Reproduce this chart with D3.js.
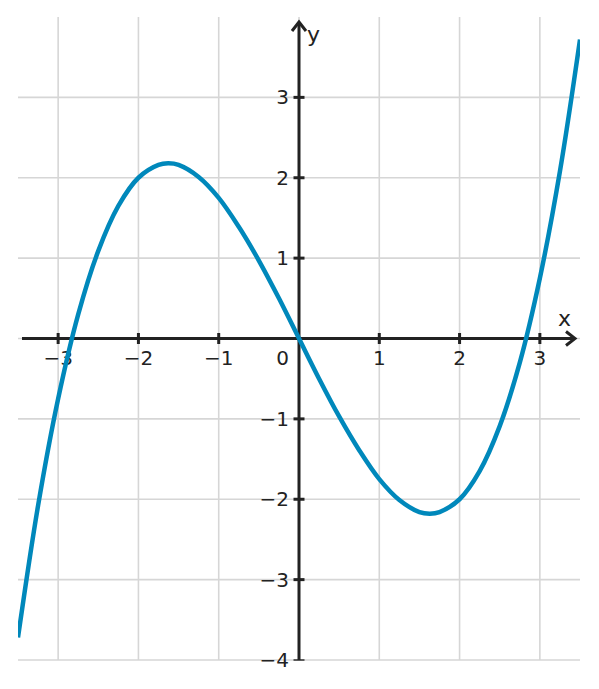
<!DOCTYPE html>
<html>
<head>
<meta charset="utf-8">
<script src="https://cdn.jsdelivr.net/npm/d3@7"></script>
<style>
  body { margin: 0; background: #fff; }
  text { font-family: "DejaVu Sans", sans-serif; fill: #222; }
</style>
</head>
<body>
<div id="chart"></div>
<script>
// curve points
var xs = [-3.5, -3.25, -3, -2.75, -2.5, -2.25, -2, -1.75, -1.63, -1.5, -1.25, -1, -0.75, -0.5, -0.25,
          0, 0.25, 0.5, 0.75, 1, 1.25, 1.5, 1.63, 1.75, 2, 2.25, 2.5, 2.75, 3, 3.25, 3.5];
var ys = [-3.72, -2.08, -0.75, 0.30, 1.09, 1.65, 2.00, 2.16, 2.18, 2.16, 2.01, 1.75, 1.39, 0.97, 0.50,
          0, -0.50, -0.97, -1.39, -1.75, -2.01, -2.16, -2.18, -2.16, -2.00, -1.65, -1.09, -0.30, 0.75, 2.08, 3.72];

var xTicks = [-3, -2, -1, 1, 2, 3];
var yTicks = [-4, -3, -2, -1, 1, 2, 3];
var xGrid = [-3, -2, -1, 0, 1, 2, 3];
var yGrid = [-4, -3, -2, -1, 0, 1, 2, 3];

var width = 599, height = 689;
var plot = { left: 18, right: 580, top: 17, bottom: 660 };

var x = d3.scaleLinear().domain([-3.5, 3.5]).range([plot.left, plot.right]);
var y = d3.scaleLinear().domain([-4, 4]).range([plot.bottom, plot.top]);

var svg = d3.select("#chart").append("svg")
    .attr("width", width)
    .attr("height", height);

svg.append("defs").append("clipPath").attr("id", "clip")
    .append("rect")
    .attr("x", plot.left).attr("y", plot.top)
    .attr("width", plot.right - plot.left).attr("height", plot.bottom - plot.top);

// grid
svg.append("g").selectAll("line").data(xGrid).join("line")
    .attr("x1", d => x(d)).attr("x2", d => x(d))
    .attr("y1", plot.top).attr("y2", plot.bottom)
    .attr("stroke", "#d6d6d6").attr("stroke-width", 1.6);
svg.append("g").selectAll("line").data(yGrid).join("line")
    .attr("x1", plot.left).attr("x2", plot.right)
    .attr("y1", d => y(d)).attr("y2", d => y(d))
    .attr("stroke", "#d6d6d6").attr("stroke-width", 1.6);

var ax = "#222";
// x axis
svg.append("line")
    .attr("x1", 22).attr("x2", 574)
    .attr("y1", y(0)).attr("y2", y(0))
    .attr("stroke", ax).attr("stroke-width", 3);
svg.append("path")
    .attr("d", `M${566},${y(0) - 7} L${575},${y(0)} L${566},${y(0) + 7}`)
    .attr("fill", "none").attr("stroke", ax).attr("stroke-width", 3);
// y axis
svg.append("line")
    .attr("x1", x(0)).attr("x2", x(0))
    .attr("y1", plot.bottom).attr("y2", 23)
    .attr("stroke", ax).attr("stroke-width", 3);
svg.append("path")
    .attr("d", `M${x(0) - 7},${31} L${x(0)},${22} L${x(0) + 7},${31}`)
    .attr("fill", "none").attr("stroke", ax).attr("stroke-width", 3);

// ticks
svg.append("g").selectAll("line").data(xTicks).join("line")
    .attr("x1", d => x(d)).attr("x2", d => x(d))
    .attr("y1", y(0) - 5.5).attr("y2", y(0) + 5.5)
    .attr("stroke", ax).attr("stroke-width", 3);
svg.append("g").selectAll("line").data(yTicks).join("line")
    .attr("x1", x(0) - 5.5).attr("x2", x(0) + 5.5)
    .attr("y1", d => y(d)).attr("y2", d => y(d))
    .attr("stroke", ax).attr("stroke-width", d => d == -4 ? 1.4 : 3);

function fmt(d) { return d < 0 ? "\u2212" + Math.abs(d) : String(d); }

// tick labels
svg.append("g").selectAll("text").data(xTicks).join("text")
    .attr("x", d => x(d)).attr("y", y(0) + 26)
    .attr("text-anchor", "middle")
    .attr("font-size", 20)
    .text(fmt);
svg.append("g").selectAll("text").data(yTicks).join("text")
    .attr("x", x(0) - 10).attr("y", d => y(d) + 7)
    .attr("text-anchor", "end")
    .attr("font-size", 20)
    .text(fmt);
svg.append("text")
    .attr("x", x(0) - 10).attr("y", y(0) + 26)
    .attr("text-anchor", "end")
    .attr("font-size", 20)
    .text("0");

// axis names
svg.append("text").attr("x", 558).attr("y", 326).attr("font-size", 22).text("x");
svg.append("text").attr("x", 307).attr("y", 42).attr("font-size", 22).text("y");

// curve
var pts = xs.map((d, i) => ({ x: d, y: ys[i] }));
svg.append("path")
    .datum(pts)
    .attr("clip-path", "url(#clip)")
    .attr("fill", "none")
    .attr("stroke", "#0088bb")
    .attr("stroke-width", 4.5)
    .attr("d", d3.line()
        .x(d => x(d.x))
        .y(d => y(d.y))
        .curve(d3.curveCatmullRom.alpha(0.5)));
</script>
</body>
</html>
